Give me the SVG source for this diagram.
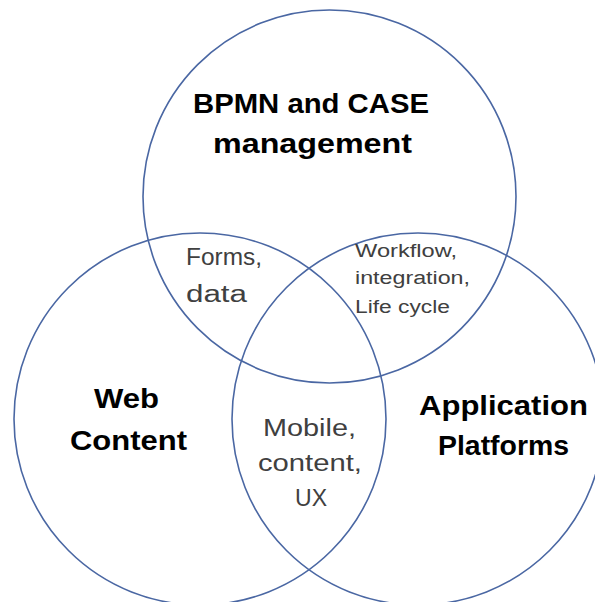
<svg xmlns="http://www.w3.org/2000/svg" width="595" height="602" viewBox="0 0 595 602">
  <style>
    .ring { fill: none; stroke: #4a67a3; stroke-width: 1.6; }
    .title { font-family: "Liberation Sans", Arial, sans-serif; font-weight: bold; font-size: 28px; fill: #000; }
    .note { font-family: "Liberation Sans", Arial, sans-serif; fill: #404040; }
  </style>
  <rect width="595" height="602" fill="#fff"/>

  <g id="bpmn-case">
    <circle class="ring" cx="329.5" cy="196.5" r="186.5"/>
    <text class="title" x="193" y="113" textLength="236" lengthAdjust="spacingAndGlyphs">BPMN and CASE</text>
    <text class="title" x="213" y="153" textLength="199" lengthAdjust="spacingAndGlyphs">management</text>
  </g>

  <g id="web-content">
    <circle class="ring" cx="200" cy="419" r="186"/>
    <text class="title" x="94" y="408" textLength="65" lengthAdjust="spacingAndGlyphs">Web</text>
    <text class="title" x="70" y="450" textLength="117" lengthAdjust="spacingAndGlyphs">Content</text>
  </g>

  <g id="app-platforms">
    <circle class="ring" cx="418" cy="419" r="186"/>
    <text class="title" x="419" y="415" textLength="169" lengthAdjust="spacingAndGlyphs">Application</text>
    <text class="title" x="438" y="455" textLength="131" lengthAdjust="spacingAndGlyphs">Platforms</text>
  </g>

  <!-- overlap labels -->
  <g id="forms-data" class="note" font-size="23">
    <text x="186" y="265" textLength="76" lengthAdjust="spacingAndGlyphs">Forms,</text>
    <text x="186" y="302" textLength="61" lengthAdjust="spacingAndGlyphs">data</text>
  </g>

  <g id="workflow" class="note" font-size="18">
    <text x="355" y="257" textLength="102" lengthAdjust="spacingAndGlyphs">Workflow,</text>
    <text x="355" y="284" textLength="115" lengthAdjust="spacingAndGlyphs">integration,</text>
    <text x="355" y="313" textLength="95" lengthAdjust="spacingAndGlyphs">Life cycle</text>
  </g>

  <g id="mobile" class="note" font-size="23">
    <text x="263" y="436" textLength="93" lengthAdjust="spacingAndGlyphs">Mobile,</text>
    <text x="258" y="471" textLength="104" lengthAdjust="spacingAndGlyphs">content,</text>
    <text x="295" y="506" textLength="32" lengthAdjust="spacingAndGlyphs">UX</text>
  </g>
</svg>
